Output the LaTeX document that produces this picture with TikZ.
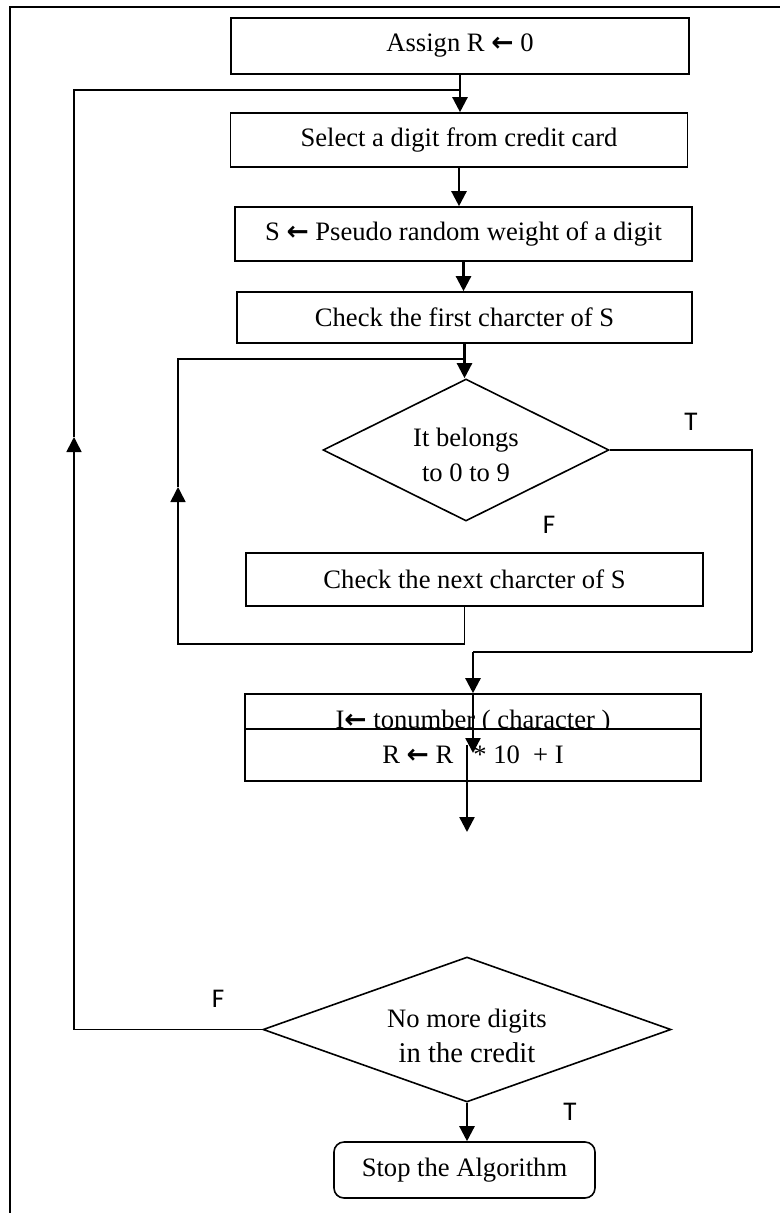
\documentclass[tikz,border=0pt]{standalone}
\usepackage{fontspec}
\setmainfont{Liberation Serif}
\newfontfamily\lblfont{Carlito}
\newfontfamily\arrfont{DejaVu Sans}
\newcommand{\larr}{{\arrfont\bfseries ←}}
\usetikzlibrary{shapes.geometric,arrows.meta}
\begin{document}
\begin{tikzpicture}[x=0.5pt,y=-0.5pt,
 box/.style={draw, line width=0.8pt, fill=white, inner sep=0pt, font=\fontsize{13.3}{16}\selectfont},
 dia/.style={draw, diamond, line width=0.8pt, inner sep=0pt},
 txt/.style={font=\fontsize{13.3}{17.5}\selectfont, align=center, inner sep=0pt},
 lbl/.style={font=\lblfont\fontsize{13.5}{13.5}\selectfont, inner sep=0pt},
 arr/.style={line width=1.2pt, -{Triangle[length=7.5pt,width=7.5pt]}},
 tarr/.style={line width=0.8pt, -{Triangle[length=7.5pt,width=7.5pt]}},
 lin/.style={line width=0.8pt},
]
\useasboundingbox (0,0) rectangle (780,1213);
\coordinate (fTR) at (780,7);
\coordinate (fTL) at (10,7);
\coordinate (fBL) at (10,1213);
\draw[line width=1pt] (fTR) -- (fTL) -- (fBL);

\node[box, minimum width=229pt, minimum height=28pt] (assign) at (460,46) {Assign R \larr\ 0};
\node[box, minimum width=228.5pt, minimum height=27pt] (select) at (459,140) {Select a digit from credit card};
\node[box, minimum width=228.5pt, minimum height=27pt] (sbox) at (463.5,234) {S \larr\ Pseudo random weight of a digit};
\node[box, minimum width=227.5pt, minimum height=25.5pt] (check1) at (464.5,317.5) {Check the first charcter of S};
\node[dia, minimum width=143pt, minimum height=71pt] (d1) at (466,450) {};
\node[txt] (d1t) at (466,455) {It belongs\\to 0 to 9};
\node[box, minimum width=228.5pt, minimum height=26.5pt] (check2) at (474.5,579.5) {Check the next charcter of S};
\node[box, minimum width=228pt, minimum height=28pt] (num) at (473,722) {I\larr\ tonumber ( character )};
\node[box, minimum width=228pt, minimum height=26pt] (calc) at (473,755) {R \larr\ R \ \ * 10 \ + I};
\node[dia, minimum width=204pt, minimum height=72.5pt] (d2) at (467,1029.5) {};
\node[txt] (d2t) at (467,1036) {No more digits\\{\fontsize{14.3}{17.5}\selectfont in the credit}};
\node[box, rounded corners=5pt, minimum width=130.5pt, minimum height=28pt] (stop) at (464.5,1170) {Stop the Algorithm};

% main flow
\draw[arr] (assign.south) -- (assign.south |- select.north);
\draw[arr] (select.south) -- (select.south |- sbox.north);
\draw[arr] (sbox.south) -- (sbox.south |- check1.north);
\coordinate (j2) at (464.5,359);
\draw[arr] (check1.south) -- (check1.south |- d1.north);

% outer loop
\coordinate (j1) at (460,90);
\coordinate (lb) at (74,1029.5);
\coordinate (la) at (74,437);
\coordinate (lt) at (74,90);
\draw[tarr] (d2.west) -- (lb) -- (la);
\draw[lin] (la) -- (lt) -- (j1);

% inner loop
\coordinate (m1) at (464.5,644);
\coordinate (m2) at (178,644);
\coordinate (m3) at (178,487);
\coordinate (m4) at (178,359);
\draw[tarr] (check2.south -| j2) -- (m1) -- (m2) -- (m3);
\draw[lin] (m3) -- (m4) -- (j2);

% true branch
\coordinate (t1) at (752,450);
\coordinate (t2) at (752,652);
\coordinate (t3) at (473,652);
\draw[lin] (d1.east) -- (t1) -- (t2);
\draw[line width=1.2pt] (t2) -- (t3);
\draw[arr] (t3) -- (num.north);
\coordinate (k1) at (473,753);
\draw[arr] (num.north) -- (k1);
\coordinate (k2) at (467,745);
\coordinate (k3) at (467,832);
\draw[arr] (k2) -- (k3);

\draw[arr] (d2.south) -- (d2.south |- stop.north);

% labels
\node[lbl] (T1) at (691,422) {T};
\node[lbl] (F1) at (549,525) {F};
\node[lbl] (F2) at (218,999) {F};
\node[lbl] (T2) at (570,1112) {T};
\end{tikzpicture}
\end{document}
